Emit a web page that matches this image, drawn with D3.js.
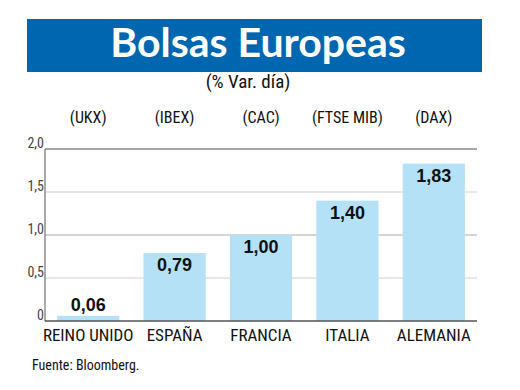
<!DOCTYPE html>
<html>
<head>
<meta charset="utf-8">
<script src="https://cdn.jsdelivr.net/npm/d3@7"></script>
<style>
  body { margin: 0; background: #fff; }
  .narrow { font-family: "Liberation Sans Narrow", "Roboto Condensed", "Arial Narrow", sans-serif; }
</style>
</head>
<body>
<div id="chart"></div>
<script>
// datos
var paises = ["REINO UNIDO", "ESPAÑA", "FRANCIA", "ITALIA", "ALEMANIA"];
var indices = ["(UKX)", "(IBEX)", "(CAC)", "(FTSE MIB)", "(DAX)"];
var valores = [0.06, 0.79, 1.00, 1.40, 1.83];
var yTicks = [0, 0.5, 1.0, 1.5, 2.0];

var W = 520, H = 390;
var margin = {top: 149, right: 43, bottom: 69, left: 45},
    width = W - margin.left - margin.right,
    height = H - margin.top - margin.bottom;

var fmt = function(v, dec) { return d3.format("." + dec + "f")(v).replace(".", ","); };

var svg = d3.select("#chart").append("svg")
    .attr("width", W)
    .attr("height", H);

// cabecera
svg.append("rect")
    .attr("x", 27).attr("y", 19)
    .attr("width", 455).attr("height", 53)
    .attr("fill", "#0066b0");
svg.append("text")
    .attr("x", 258).attr("y", 57)
    .attr("text-anchor", "middle")
    .attr("fill", "#fff")
    .style("font-family", "Lato, sans-serif")
    .style("font-weight", "bold")
    .style("font-size", "41px")
    .text("Bolsas Europeas");
svg.append("text")
    .attr("x", 248).attr("y", 88)
    .attr("text-anchor", "middle")
    .attr("class", "narrow")
    .style("font-size", "19px")
    .attr("fill", "#111")
    .text("(% Var. día)");

var g = svg.append("g")
    .attr("transform", "translate(" + margin.left + "," + margin.top + ")");

var x = d3.scaleBand()
    .domain(paises)
    .range([0, width])
    .paddingInner(0.28)
    .paddingOuter(0.14);

var y = d3.scaleLinear()
    .domain([0, 2])
    .range([height, 0]);

// rejilla
g.selectAll(".grid")
    .data(yTicks.filter(function(d) { return d > 0 && d < 2; }))
    .enter().append("line")
    .attr("x1", 0).attr("x2", width)
    .attr("y1", function(d) { return y(d); })
    .attr("y2", function(d) { return y(d); })
    .attr("stroke", function(d) { return d === 1 ? "#aaa" : "#cfcfcf"; })
    .attr("stroke-width", 1);

g.append("line")
    .attr("x1", 0).attr("x2", width)
    .attr("y1", y(2)).attr("y2", y(2))
    .attr("stroke", "#888").attr("stroke-width", 1.5);

// barras
g.selectAll(".bar")
    .data(valores)
    .enter().append("rect")
    .attr("x", function(d, i) { return x(paises[i]); })
    .attr("y", function(d) { return y(d); })
    .attr("width", x.bandwidth())
    .attr("height", function(d) { return height - y(d); })
    .attr("fill", "#b5e1f7");

// etiquetas de valor
g.selectAll(".val")
    .data(valores)
    .enter().append("text")
    .attr("x", function(d, i) { return x(paises[i]) + x.bandwidth() / 2; })
    .attr("y", function(d) { return d < 0.3 ? y(d) - 5 : y(d) + 18; })
    .attr("text-anchor", "middle")
    .style("font-family", "'Liberation Sans', Arial, sans-serif")
    .style("font-weight", "bold")
    .style("font-size", "18px")
    .attr("fill", "#111")
    .text(function(d) { return fmt(d, 2); });

// ejes
g.append("line")
    .attr("x1", 0).attr("x2", 0)
    .attr("y1", y(2)).attr("y2", height)
    .attr("stroke", "#555").attr("stroke-width", 1);
g.append("line")
    .attr("x1", 0).attr("x2", width)
    .attr("y1", height).attr("y2", height)
    .attr("stroke", "#555").attr("stroke-width", 1.5);

g.selectAll(".ytick")
    .data(yTicks)
    .enter().append("text")
    .attr("class", "narrow")
    .attr("x", -1)
    .attr("y", function(d) { return y(d) - 1; })
    .attr("text-anchor", "end")
    .style("font-size", "14px")
    .attr("fill", "#444")
    .text(function(d) { return d === 0 ? "0" : fmt(d, 1); });

g.selectAll(".cat")
    .data(paises)
    .enter().append("text")
    .attr("class", "narrow")
    .attr("x", function(d) { return x(d) + x.bandwidth() / 2; })
    .attr("y", height + 20)
    .attr("text-anchor", "middle")
    .style("font-size", "17px")
    .attr("fill", "#111")
    .text(function(d) { return d; });

g.selectAll(".idx")
    .data(indices)
    .enter().append("text")
    .attr("class", "narrow")
    .attr("x", function(d, i) { return x(paises[i]) + x.bandwidth() / 2; })
    .attr("y", -26)
    .attr("text-anchor", "middle")
    .style("font-size", "16px")
    .attr("fill", "#111")
    .text(function(d) { return d; });

svg.append("text")
    .attr("class", "narrow")
    .attr("x", 32).attr("y", 370)
    .style("font-size", "14px")
    .attr("fill", "#111")
    .text("Fuente: Bloomberg.");
</script>
</body>
</html>
